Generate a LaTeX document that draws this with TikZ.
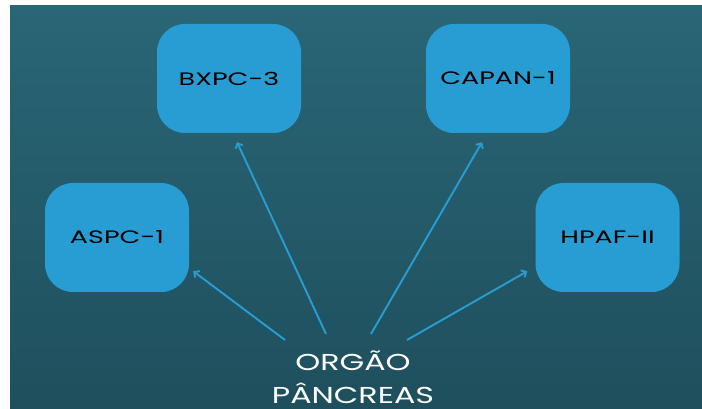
\documentclass[tikz,border=0pt]{standalone}
\usepackage{fontspec}
\newfontfamily\widefont[FakeStretch=1.5]{Poppins}
\newfontfamily\orgfont[FakeStretch=1.38]{Poppins}
\usetikzlibrary{arrows.meta,calc}
\definecolor{boxblue}{RGB}{40,157,211}
\definecolor{bgtop}{RGB}{41,102,118}
\definecolor{bgbot}{RGB}{31,79,93}
\begin{document}
\begin{tikzpicture}[x=1pt,y=1pt,
  cellbox/.style={draw=none, fill=boxblue, rounded corners=28pt, minimum width=144pt, minimum height=109pt, font=\widefont\fontsize{18}{20}\selectfont, text=black, inner sep=0pt},
  link/.style={draw=boxblue, line width=1.9pt, -{Straight Barb[length=4pt,width=8pt]}}]
\useasboundingbox (0,0) rectangle (702,409);
\shade[top color=bgtop,bottom color=bgbot] (10,0) rectangle (702,403);
\node[cellbox] (bxpc) at (229,330.5) {BXPC-3};
\node[cellbox] (capan) at (498,330.5) {CAPAN-1};
\node[cellbox] (aspc) at (117,171.5) {ASPC-1};
\node[cellbox] (hpaf) at (607.5,171.5) {HPAF-II};
\node[text=white, align=center, inner sep=0pt, font=\orgfont\fontsize{23}{33}\selectfont] (org) at (353,32) {ORGÃO\\PÂNCREAS};
\coordinate (s1) at ($(org.center)+(-68,37)$);
\coordinate (s2) at ($(org.center)+(-27,43)$);
\coordinate (s3) at ($(org.center)+(18,43)$);
\coordinate (s4) at ($(org.center)+(54,37)$);
\draw[link] (s1) -- ($(aspc.south east)+(4,21)$);
\draw[link] (s2) -- ($(bxpc.south)+(8,-9)$);
\draw[link] (s3) -- ($(capan.south)+(-16,-9)$);
\draw[link] (s4) -- ($(hpaf.south west)+(-8,21)$);
\end{tikzpicture}
\end{document}
